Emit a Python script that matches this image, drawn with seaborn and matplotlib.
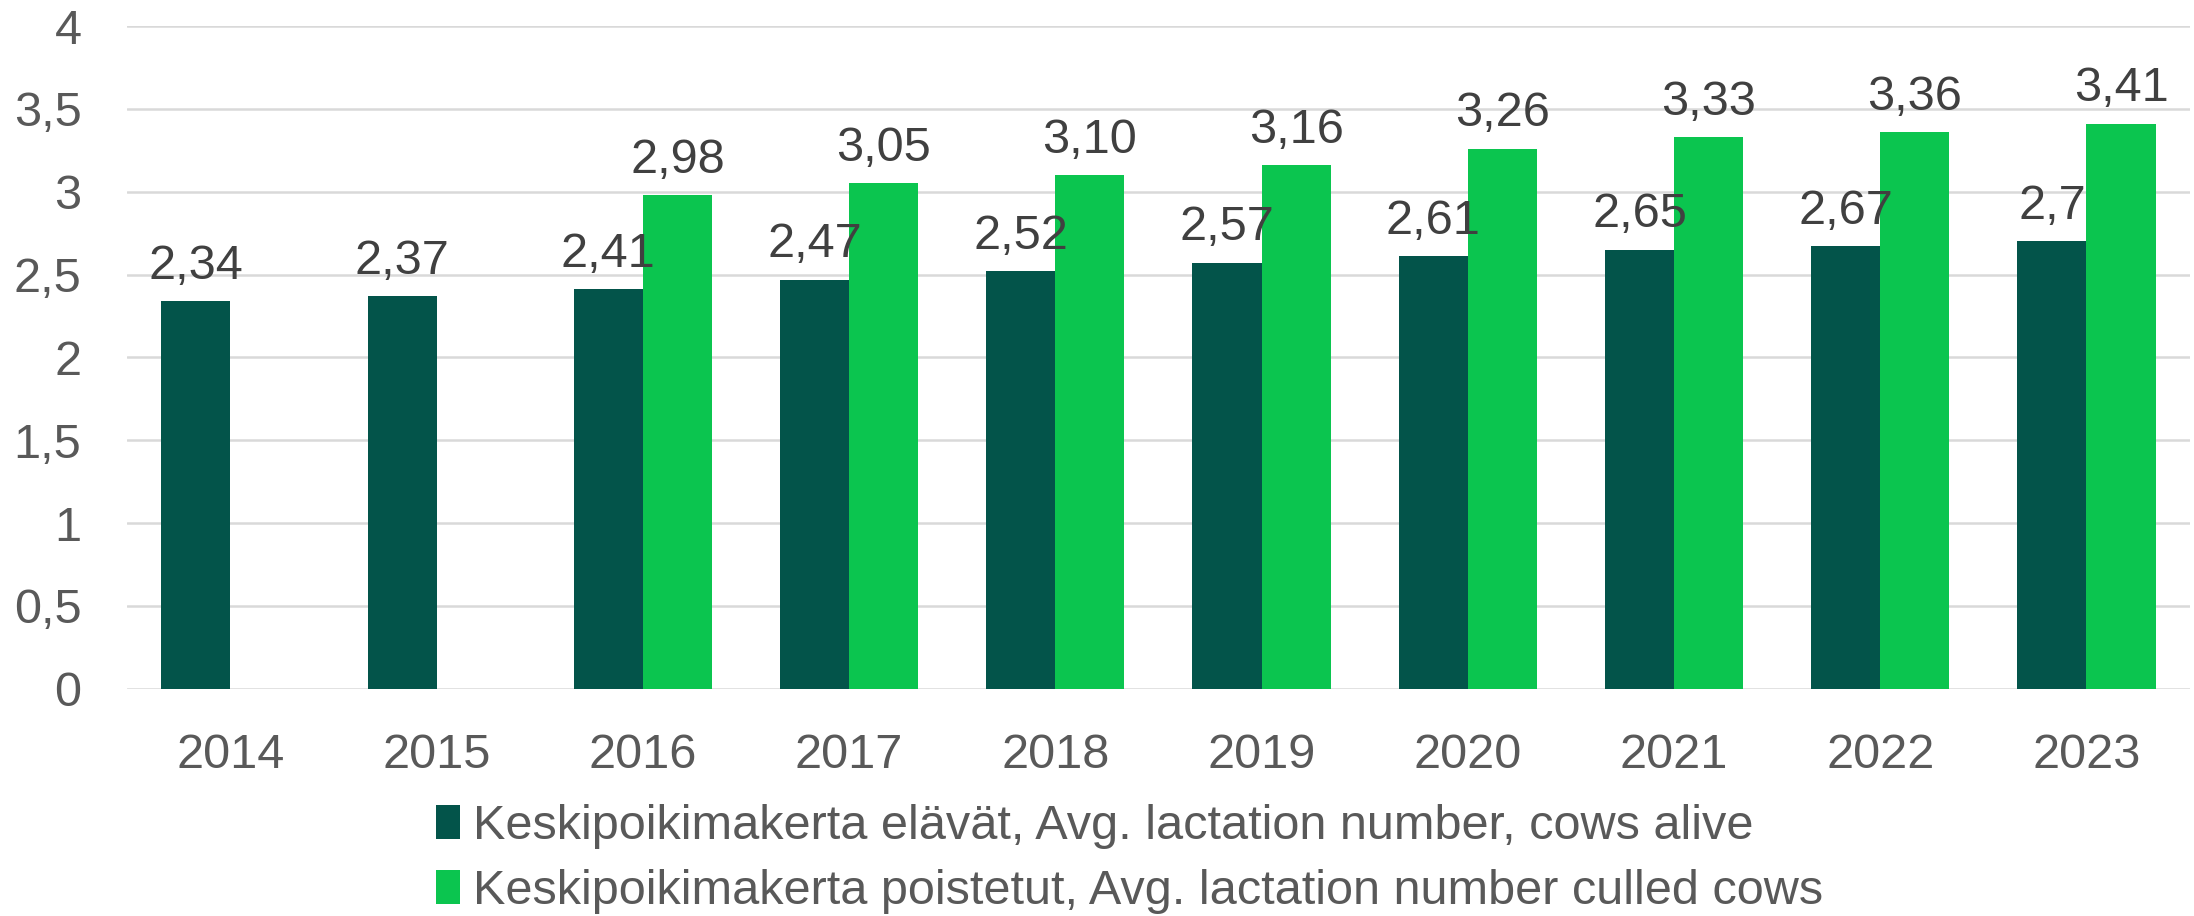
import pandas as pd
import numpy as np
import matplotlib.pyplot as plt
import seaborn as sns

# Data
years = ['2014', '2015', '2016', '2017', '2018', '2019', '2020', '2021', '2022', '2023']
alive = [2.34, 2.37, 2.41, 2.47, 2.52, 2.57, 2.61, 2.65, 2.67, 2.70]
culled = [np.nan, np.nan, 2.98, 3.05, 3.10, 3.16, 3.26, 3.33, 3.36, 3.41]
alive_labels = ['2,34', '2,37', '2,41', '2,47', '2,52', '2,57', '2,61', '2,65', '2,67', '2,7']
culled_labels = ['2,98', '3,05', '3,10', '3,16', '3,26', '3,33', '3,36', '3,41']
y_ticks = [0, 0.5, 1, 1.5, 2, 2.5, 3, 3.5, 4]
y_ticklabels = ['0', '0,5', '1', '1,5', '2', '2,5', '3', '3,5', '4']

name_alive = 'Keskipoikimakerta elävät, Avg. lactation number, cows alive'
name_culled = 'Keskipoikimakerta poistetut, Avg. lactation number culled cows'

df = pd.DataFrame({
    'year': years * 2,
    'value': alive + culled,
    'series': [name_alive] * len(years) + [name_culled] * len(years),
})

sns.set_theme(style='white')
plt.rcParams['font.family'] = ['Liberation Sans', 'DejaVu Sans']

FS = 35

fig = plt.figure(figsize=(21.94, 9.16), dpi=100)
ax = fig.add_axes([0.058, 0.248, 0.94, 0.7236])

palette = {name_alive: '#03544A', name_culled: '#0BC54F'}
sns.barplot(data=df, x='year', y='value', hue='series', palette=palette,
            width=0.67, gap=0, dodge=True, saturation=1, ax=ax, legend=True,
            edgecolor='none', linewidth=0)

ax.set_ylim(0, 4)
ax.set_yticks(y_ticks)
ax.set_yticklabels(y_ticklabels)
ax.set_xlabel('')
ax.set_ylabel('')
ax.yaxis.grid(True, color='#D9D9D9', linewidth=1.8)
ax.set_axisbelow(True)
for s in ax.spines.values():
    s.set_visible(False)
ax.tick_params(axis='both', length=0, labelsize=FS, colors='#595959')
ax.tick_params(axis='y', pad=33)
ax.tick_params(axis='x', pad=32)

# data labels
ax.bar_label(ax.containers[0], labels=alive_labels, fontsize=FS, color='#404040', padding=9)
ax.bar_label(ax.containers[1], labels=culled_labels, fontsize=FS, color='#404040', padding=9)

# legend below the plot
handles, labels = ax.get_legend_handles_labels()
ax.get_legend().remove()
fig.legend(handles, labels, loc='center left', bbox_to_anchor=(0.19, 0.062),
           frameon=False, fontsize=FS, labelcolor='#595959', handlelength=0.48,
           handleheight=0.7, handletextpad=0.28, labelspacing=0.42, borderaxespad=0)

fig.savefig('out.png', dpi=100)
